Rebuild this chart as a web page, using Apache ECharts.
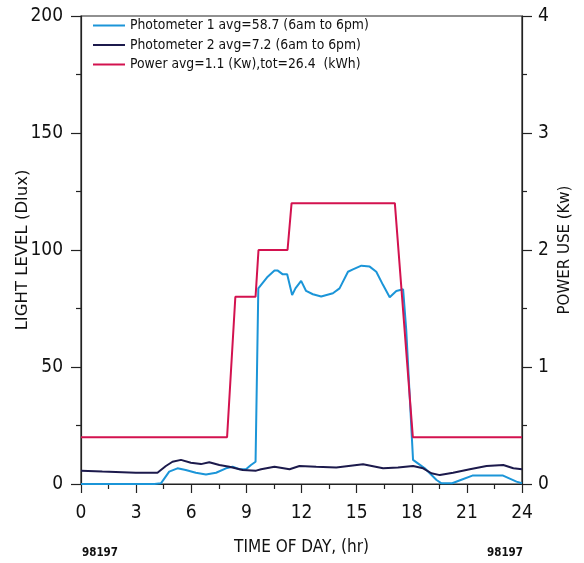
<!DOCTYPE html>
<html>
<head>
<meta charset="utf-8">
<script src="https://cdn.jsdelivr.net/npm/echarts@6/dist/echarts.min.js"></script>
<style>
html,body{margin:0;padding:0;background:#fff;}
#c{width:584px;height:563px;}
</style>
</head>
<body>
<div id="c"></div>
<script>
var FONT = '"DejaVu Sans Condensed","DejaVu Sans",sans-serif';

var seriesNames = [
  'Photometer 1 avg=58.7 (6am to 6pm)',
  'Photometer 2 avg=7.2 (6am to 6pm)',
  'Power avg=1.1 (Kw),tot=26.4  (kWh)'
];

var xTicks = [0, 3, 6, 9, 12, 15, 18, 21, 24];
var lightTicks = [0, 50, 100, 150, 200];
var powerTicks = [0, 1, 2, 3, 4];

var p1Times = [0, 1, 2, 3, 4, 4.35, 4.8, 5.25, 5.7, 6.25, 6.8, 7.35, 7.89, 8.25, 8.62, 8.98, 9.25, 9.5, 9.65,
  10.16, 10.53, 10.71, 10.98, 11.22, 11.49, 11.67, 11.98, 12.25, 12.62, 13.07, 13.71, 14.07, 14.53, 14.8,
  15.26, 15.71, 16.07, 16.44, 16.8, 17.16, 17.53, 17.7, 18.07, 18.71, 19.35, 19.62, 20.2, 20.7, 21.3, 22.97, 23.7, 24];
var p1Values = [0, 0, 0, 0, 0, 0.3, 5.3, 6.7, 6.0, 4.8, 4.1, 4.8, 6.7, 7.4, 6.3, 6.3, 8.1, 9.5, 83.6,
  88.6, 91.2, 91.2, 89.6, 89.6, 80.8, 83.6, 86.8, 82.5, 81.1, 80.1, 81.5, 83.6, 90.7, 91.7,
  93.3, 92.9, 90.7, 85.0, 79.8, 82.5, 83.2, 65.8, 10.3, 6.7, 1.7, 0.3, 0.3, 1.8, 3.6, 3.6, 1.0, 0.3];

var p2Times = [0, 1.16, 2.98, 4.16, 4.62, 4.98, 5.44, 5.98, 6.53, 6.98, 7.53, 8.07, 8.8, 9.53, 9.8, 10.53,
  11.35, 11.89, 12.8, 13.89, 15.35, 16.44, 17.25, 18.07, 18.62, 19.07, 19.53, 20.25, 21.16, 22.07, 22.98, 23.53, 24];
var p2Values = [5.7, 5.3, 4.8, 4.8, 7.7, 9.5, 10.3, 9.1, 8.5, 9.3, 8.1, 7.4, 6.0, 5.7, 6.3, 7.4,
  6.3, 7.7, 7.4, 7.1, 8.4, 6.7, 7.1, 7.7, 6.7, 4.6, 3.8, 4.8, 6.3, 7.7, 8.1, 6.7, 6.3];

var powerTimes = [0, 7.95, 8.4, 9.5, 9.66, 11.24, 11.46, 17.08, 18.06, 24];
var powerValues = [0.4, 0.4, 1.6, 1.6, 2.0, 2.0, 2.4, 2.4, 0.4, 0.4];

function pairs(xs, ys) { return xs.map(function (x, i) { return [x, ys[i]]; }); }

var colors = ['#1b95d8', '#1c1a4c', '#d3124f'];

var chart = echarts.init(document.getElementById('c'), null, {renderer: 'canvas'});
var axisLine = {show: true, lineStyle: {color: '#222', width: 1.2}};
var tickLabel = {fontFamily: FONT, fontSize: 19, color: '#111'};
chart.setOption({
  animation: false,
  backgroundColor: '#fff',
  grid: {left: 81, right: 62, top: 16, bottom: 79, show: true, borderColor: '#222', borderWidth: 1.2,
    outerBoundsMode: 'none', containLabel: false},
  legend: {
    orient: 'vertical', left: 93, top: 18, padding: 0, itemGap: 4.5, itemWidth: 32, itemHeight: 2,
    icon: 'rect', data: seriesNames,
    textStyle: {fontFamily: FONT, fontSize: 13.8, lineHeight: 15, color: '#111'}
  },
  xAxis: {
    type: 'value', min: 0, max: 24, interval: 3,
    axisLine: axisLine,
    axisTick: {show: true, length: 9, lineStyle: {color: '#222', width: 1.2}},
    minorTick: {show: true, splitNumber: 2, length: 5, lineStyle: {color: '#222', width: 1.2}},
    splitLine: {show: false},
    axisLabel: Object.assign({margin: 20,
      formatter: function (v) { return xTicks.indexOf(v) >= 0 ? String(v) : ''; }}, tickLabel),
    name: 'TIME OF DAY, (hr)', nameLocation: 'middle', nameGap: 55, nameMoveOverlap: false,
    nameTextStyle: {fontFamily: FONT, fontSize: 17, color: '#111'}
  },
  yAxis: [{
    type: 'value', min: 0, max: 200, interval: 50,
    axisLine: axisLine,
    axisTick: {show: true, length: 10, lineStyle: {color: '#222', width: 1.2}},
    minorTick: {show: true, splitNumber: 2, length: 5, lineStyle: {color: '#222', width: 1.2}},
    splitLine: {show: false},
    axisLabel: Object.assign({margin: 18,
      formatter: function (v) { return lightTicks.indexOf(v) >= 0 ? String(v) : ''; }}, tickLabel),
    name: 'LIGHT LEVEL (Dlux)', nameLocation: 'middle', nameGap: 50, nameRotate: 90, nameMoveOverlap: false,
    nameTextStyle: {fontFamily: '"DejaVu Sans",sans-serif', fontSize: 16.5, color: '#111'}
  }, {
    type: 'value', min: 0, max: 4, interval: 1, position: 'right',
    axisLine: axisLine,
    axisTick: {show: true, length: 10, lineStyle: {color: '#222', width: 1.2}},
    minorTick: {show: true, splitNumber: 2, length: 5, lineStyle: {color: '#222', width: 1.2}},
    splitLine: {show: false},
    axisLabel: Object.assign({margin: 16,
      formatter: function (v) { return powerTicks.indexOf(v) >= 0 ? String(v) : ''; }}, tickLabel),
    name: 'POWER USE (Kw)', nameLocation: 'middle', nameGap: 36, nameRotate: 90, nameMoveOverlap: false,
    nameTextStyle: {fontFamily: '"DejaVu Sans",sans-serif', fontSize: 15, color: '#111'}
  }],
  graphic: [
    {type: 'text', left: 82, top: 547, style: {text: '98197', font: 'bold 11.5px ' + FONT, fill: '#111'}},
    {type: 'text', left: 487, top: 547, style: {text: '98197', font: 'bold 11.5px ' + FONT, fill: '#111'}}
  ],
  series: [
    {name: seriesNames[0], type: 'line', data: pairs(p1Times, p1Values), yAxisIndex: 0,
      symbol: 'none', smooth: false, lineStyle: {color: colors[0], width: 2}, itemStyle: {color: colors[0]}},
    {name: seriesNames[1], type: 'line', data: pairs(p2Times, p2Values), yAxisIndex: 0,
      symbol: 'none', smooth: false, lineStyle: {color: colors[1], width: 2}, itemStyle: {color: colors[1]}},
    {name: seriesNames[2], type: 'line', data: pairs(powerTimes, powerValues), yAxisIndex: 1,
      symbol: 'none', smooth: false, lineStyle: {color: colors[2], width: 2}, itemStyle: {color: colors[2]}}
  ]
});
</script>
</body>
</html>
